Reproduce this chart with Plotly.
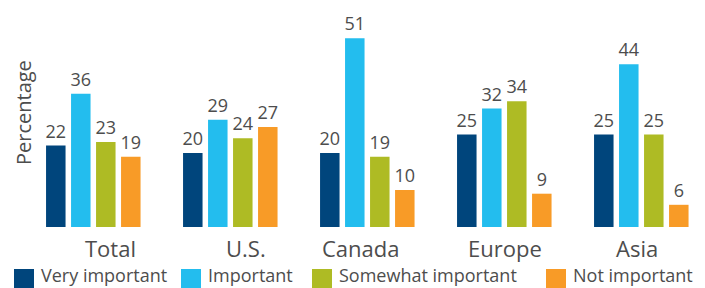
import plotly.graph_objects as go

categories = ["Total", "U.S.", "Canada", "Europe", "Asia"]
series_names = ["Very important", "Important", "Somewhat important", "Not important"]
very_important = [22, 20, 20, 25, 25]
important = [36, 29, 51, 32, 44]
somewhat_important = [23, 24, 19, 34, 25]
not_important = [19, 27, 10, 9, 6]
series_values = [very_important, important, somewhat_important, not_important]
colors = ["#00457c", "#23bdee", "#aebb24", "#f89b27"]

# styling
FONT = "Open Sans"
TXT = "#4d4d4d"
W, H = 705, 288
L, R, T, B = 40, 0, 10, 61
PW, PH = W - L - R, H - T - B
CAT_PX = 137.0           # pixels per category
FIRST_CENTER = 93.3      # pixel x of first group centre
PX_PER_UNIT = 3.7        # pixels per percentage point
label_shift = [17, 16, -7, 1, -4]

x0 = -(FIRST_CENTER - L) / CAT_PX
x1 = x0 + PW / CAT_PX

def px_x(px):
    return (px - L) / PW

def px_y(py):
    return (H - B - py) / PH

fig = go.Figure()
for name, vals, col in zip(series_names, series_values, colors):
    fig.add_trace(go.Bar(
        x=categories, y=vals, name=name,
        marker=dict(color=col, line=dict(width=0)),
        text=[str(v) for v in vals], textposition="outside",
        textfont=dict(family=FONT, size=18, color=TXT),
        constraintext="none", cliponaxis=False, showlegend=False,
        hoverinfo="skip",
    ))

annotations = []
for i, c in enumerate(categories):
    annotations.append(dict(
        x=i, xref="x", y=px_y(248), yref="paper", text=c, showarrow=False,
        xshift=label_shift[i], xanchor="center", yanchor="middle",
        font=dict(family=FONT, size=22, color=TXT),
    ))

# y-axis title
annotations.append(dict(
    x=px_x(23), xref="paper", y=px_y(113), yref="paper", text="Percentage",
    textangle=-90, showarrow=False, xanchor="center", yanchor="middle",
    font=dict(family=FONT, size=20, color=TXT),
))

# manual legend
legend_marker_x = [14, 181, 312, 546]
shapes = []
for name, col, mx in zip(series_names, colors, legend_marker_x):
    shapes.append(dict(
        type="rect", xref="paper", yref="paper",
        x0=px_x(mx), x1=px_x(mx + 20), y0=px_y(288), y1=px_y(269),
        fillcolor=col, line=dict(width=0),
    ))
    annotations.append(dict(
        x=px_x(mx + 26), xref="paper", y=px_y(287.5), yref="paper", text=name,
        showarrow=False, xanchor="left", yanchor="bottom", borderpad=0,
        font=dict(family=FONT, size=18, color=TXT),
    ))

fig.update_layout(
    width=W, height=H,
    margin=dict(l=L, r=R, t=T, b=B, pad=0),
    paper_bgcolor="white", plot_bgcolor="white",
    barmode="group", bargap=0.27, bargroupgap=0.22,
    xaxis=dict(range=[x0, x1], showticklabels=False, showgrid=False,
               zeroline=False, showline=False, ticks="", fixedrange=True),
    yaxis=dict(range=[0, PH / PX_PER_UNIT], showticklabels=False, showgrid=False,
               zeroline=False, showline=False, ticks="", fixedrange=True),
    annotations=annotations, shapes=shapes,
    font=dict(family=FONT, color=TXT),
)

fig.write_html(
    "out.html",
    config={"displayModeBar": False},
    post_script="document.body.style.margin='0';document.body.style.overflow='hidden';",
)
